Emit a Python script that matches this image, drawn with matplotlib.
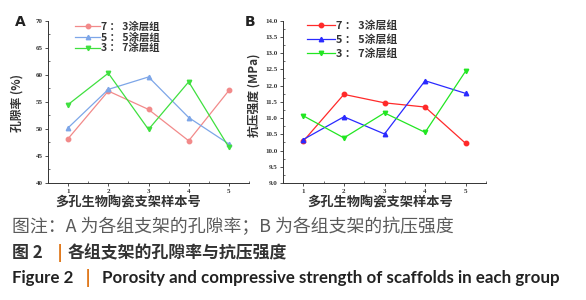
import matplotlib
matplotlib.use("Agg")
import matplotlib.pyplot as plt
from matplotlib.ticker import MultipleLocator, FormatStrFormatter

plt.rcParams['font.family'] = ['Noto Sans CJK SC', 'DejaVu Sans']

samples = [1, 2, 3, 4, 5]
groups = ["7 ： 3涂层组", "5 ： 5涂层组", "3 ： 7涂层组"]
porosity = {
    "7 ： 3涂层组": [48.2, 57.0, 53.6, 47.8, 57.1],
    "5 ： 5涂层组": [50.2, 57.3, 59.6, 52.1, 47.2],
    "3 ： 7涂层组": [54.5, 60.3, 49.9, 58.7, 46.6],
}
strength = {
    "7 ： 3涂层组": [10.29, 11.73, 11.47, 11.34, 10.22],
    "5 ： 5涂层组": [10.34, 11.04, 10.51, 12.15, 11.76],
    "3 ： 7涂层组": [11.07, 10.39, 11.16, 10.56, 12.45],
}
xlabel = "多孔生物陶瓷支架样本号"
ylabel_a = "孔隙率 (%)"
ylabel_b = "抗压强度 (MPa)"
caption1 = "图注：A 为各组支架的孔隙率；B 为各组支架的抗压强度"
caption2_a = "图 2"
caption2_b = "各组支架的孔隙率与抗压强度"
caption3_a = "Figure 2"
caption3_b = "Porosity and compressive strength of scaffolds in each group"

markers = ['o', '^', 'v']
colors_a = ['#f28a8a', '#7da6e8', '#3fe03f']
colors_b = ['#ff2a2a', '#2a2aff', '#22e622']

W, H = 586, 300
fig = plt.figure(figsize=(W / 100, H / 100), dpi=100)

def fx(px):
    return px / W

def fy(py):
    return 1 - py / H

axA = fig.add_axes([fx(48), fy(183), fx(249) - fx(48), fy(20.7) - fy(183)])
axB = fig.add_axes([fx(283), fy(183), fx(486) - fx(283), fy(20.7) - fy(183)])

for ax, data, cols, ylim, major, minor, fmt in [
    (axA, porosity, colors_a, (40, 70), 5, 2.5, '%d'),
    (axB, strength, colors_b, (9, 14), 0.5, 0.25, '%.1f'),
]:
    for g, m, c in zip(groups, markers, cols):
        ax.plot(samples, data[g], color=c, marker=m, markersize=3.2,
                linewidth=0.9, label=g)
    ax.set_xlim(0.5, 5.5)
    ax.set_ylim(*ylim)
    ax.yaxis.set_major_locator(MultipleLocator(major))
    ax.yaxis.set_minor_locator(MultipleLocator(minor))
    ax.yaxis.set_major_formatter(FormatStrFormatter(fmt))
    ax.xaxis.set_major_locator(MultipleLocator(1))
    ax.xaxis.set_minor_locator(MultipleLocator(0.5))
    for s in ['top', 'right']:
        ax.spines[s].set_visible(False)
    for s in ['left', 'bottom']:
        ax.spines[s].set_linewidth(0.7)
        ax.spines[s].set_color('#333333')
    ax.tick_params(which='major', direction='out', length=2.5, width=0.6,
                   pad=1.5, colors='#333333')
    ax.tick_params(which='minor', direction='in', length=1.5, width=0.5,
                   colors='#333333')
    for lab in ax.get_xticklabels() + ax.get_yticklabels():
        lab.set_fontfamily('Liberation Serif')
        lab.set_fontsize(5)
        lab.set_fontweight('bold')
        lab.set_color('#333333')

legA = axA.legend(loc='upper left', bbox_to_anchor=(0.1, 1.04), frameon=False,
                  fontsize=7.5, handlelength=2.4, handletextpad=0.1,
                  labelspacing=0.05, borderpad=0.2)
legB = axB.legend(loc='upper left', bbox_to_anchor=(0.08, 1.05), frameon=False,
                  fontsize=7.8, handlelength=2.6, handletextpad=0.1,
                  labelspacing=0.3, borderpad=0.2)
for leg in (legA, legB):
    for t in leg.get_texts():
        t.set_fontweight('bold')
        t.set_color('#333333')

# axis labels
fig.text(fx(128), fy(202), xlabel, ha='center', va='center', fontsize=9.5,
         fontweight='bold', color='#333333')
fig.text(fx(380), fy(202), xlabel, ha='center', va='center', fontsize=9.5,
         fontweight='bold', color='#333333')
fig.text(fx(17), fy(103), ylabel_a, ha='center', va='center', rotation=90,
         fontsize=8.5, fontweight='bold', color='#333333')
fig.text(fx(254), fy(95), ylabel_b, ha='center', va='center', rotation=90,
         fontsize=8.5, fontweight='bold', color='#333333')
fig.text(fx(20), fy(22), "A", ha='center', va='center', fontsize=10,
         fontweight='bold', family='DejaVu Sans', color='#222222')
fig.text(fx(250), fy(22), "B", ha='center', va='center', fontsize=10,
         fontweight='bold', family='DejaVu Sans', color='#222222')

# captions
orange = '#e07a1f'
fig.text(fx(12), fy(227), caption1, ha='left', va='center', fontsize=12.9,
         color='#5a5a5a')
fig.text(fx(12), fy(253), caption2_a, ha='left', va='center', fontsize=12.2,
         fontweight='bold', color='#333333')
fig.text(fx(60), fy(253), "|", ha='center', va='center', fontsize=12,
         fontweight='bold', color=orange, family='DejaVu Sans')
fig.text(fx(68), fy(253), caption2_b, ha='left', va='center', fontsize=12.2,
         fontweight='bold', color='#333333')
fig.text(fx(12), fy(278), caption3_a, ha='left', va='center', fontsize=12.2,
         fontweight='bold', color='#222222', family='Lato')
fig.text(fx(88), fy(278), "|", ha='center', va='center', fontsize=12,
         fontweight='bold', color=orange, family='DejaVu Sans')
fig.text(fx(102), fy(278), caption3_b, ha='left', va='center', fontsize=12.2,
         fontweight='bold', color='#222222', family='Lato')

fig.savefig("out.png", dpi=100)
